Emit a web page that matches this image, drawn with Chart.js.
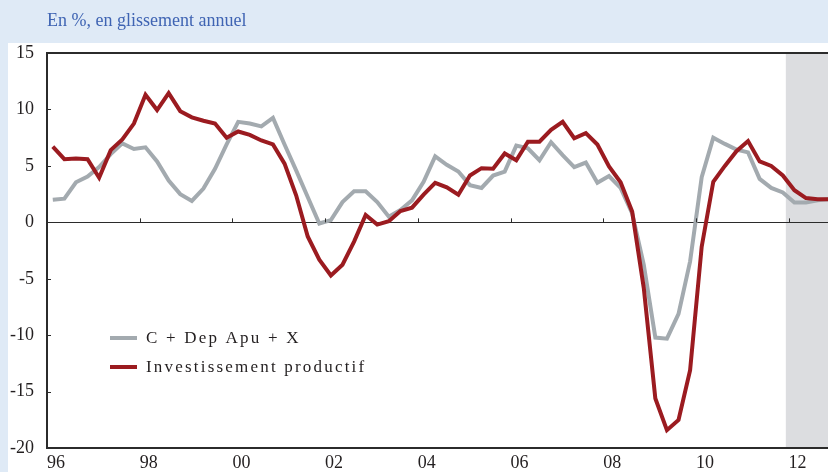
<!DOCTYPE html>
<html lang="fr">
<head>
<meta charset="utf-8">
<script src="https://cdn.jsdelivr.net/npm/chart.js@4.4.1/dist/chart.umd.min.js"></script>
<style>
  html, body { margin: 0; padding: 0; background: #dfeaf6; }
  #wrap { width: 828px; height: 472px; }
</style>
</head>
<body>
<div id="wrap"><canvas id="graph" width="828" height="472"></canvas></div>
<script>
// Glissement annuel trimestriel, 1996T1 -> 2012T4
const debut = 1996;
const annees = [1996, 1998, 2000, 2002, 2004, 2006, 2008, 2010, 2012];
const debutPrevision = 2011.94;

const demande = [
    2.0, 2.1, 3.55, 4.05, 4.9, 6.05, 7.0, 6.5, 6.65, 5.4, 3.7, 2.5,
    1.9, 3.0, 4.75, 6.9, 8.9, 8.75, 8.5, 9.25, 6.9, 4.6, 2.25, -0.1,
    0.2, 1.8, 2.75, 2.75, 1.8, 0.5, 1.1, 1.95, 3.6, 5.85, 5.1, 4.5,
    3.3, 3.05, 4.15, 4.5, 6.8, 6.55, 5.5, 7.1, 5.95, 4.9, 5.3, 3.5,
    4.1, 3.05, 0.8, -3.75, -10.2, -10.3, -8.1, -3.45, 4.0, 7.5, 6.95, 6.45,
    6.2, 3.85, 3.05, 2.65, 1.75, 1.75, 1.95, 2.05
];
const investissement = [
    6.7, 5.6, 5.65, 5.6, 3.95, 6.4, 7.35, 8.75, 11.3, 9.95, 11.45, 9.85,
    9.3, 9.0, 8.75, 7.5, 8.05, 7.75, 7.25, 6.9, 5.2, 2.4, -1.25, -3.3,
    -4.7, -3.75, -1.7, 0.65, -0.2, 0.1, 1.0, 1.3, 2.45, 3.5, 3.1, 2.45,
    4.15, 4.8, 4.75, 6.1, 5.5, 7.15, 7.15, 8.2, 8.9, 7.45, 7.9, 6.9,
    4.95, 3.55, 0.95, -5.8, -15.6, -18.4, -17.5, -13.1, -2.15, 3.6, 5.0, 6.3,
    7.2, 5.4, 5.0, 4.15, 2.85, 2.15, 2.05, 2.05
];

const couleurs = {
    gris: '#a3aaaf',
    rouge: '#9b1b20',
    texte: '#231f20',
    axe: '#2b2b2b',
    titre: '#3f64b3',
    fond: '#dfeaf6',
    prevision: '#dcdde0'
};

const police = 'Liberation Serif, Times New Roman, serif';

// trimestre i -> milieu du trimestre
const enPoints = (serie) => serie.map((v, i) => ({ x: debut + (i + 0.5) / 4, y: v }));

// Fond bleu, panneau blanc, zone de prévision grisée
const fondPlugin = {
    id: 'fond',
    beforeDraw(chart) {
        const { ctx, chartArea, scales } = chart;
        ctx.save();
        ctx.fillStyle = couleurs.fond;
        ctx.fillRect(0, 0, chart.width, chart.height);
        ctx.fillStyle = '#ffffff';
        ctx.fillRect(8, 43, chart.width - 8, chart.height - 43);
        const x0 = scales.x.getPixelForValue(debutPrevision);
        ctx.fillStyle = couleurs.prevision;
        ctx.fillRect(x0, chartArea.top, chartArea.right - x0, chartArea.bottom - chartArea.top);
        ctx.restore();
    }
};

// Bord supérieur, petites graduations internes et légende
const habillagePlugin = {
    id: 'habillage',
    afterDraw(chart) {
        const { ctx, chartArea, scales } = chart;
        ctx.save();
        ctx.strokeStyle = couleurs.axe;
        ctx.lineWidth = 2;
        ctx.beginPath();
        ctx.moveTo(chartArea.left - 1, chartArea.top);
        ctx.lineTo(chartArea.right, chartArea.top);
        ctx.stroke();

        ctx.lineWidth = 1;
        const y0 = scales.y.getPixelForValue(0);
        annees.slice(1).forEach(a => {
            const x = Math.round(scales.x.getPixelForValue(a)) + 0.5;
            ctx.beginPath();
            ctx.moveTo(x, y0);
            ctx.lineTo(x, y0 - 4);
            ctx.stroke();
        });
        scales.y.ticks.forEach(t => {
            const y = Math.round(scales.y.getPixelForValue(t.value)) + 0.5;
            ctx.beginPath();
            ctx.moveTo(chartArea.left, y);
            ctx.lineTo(chartArea.left + 4, y);
            ctx.stroke();
        });

        // légende
        const lx = chartArea.left + 63;
        let ly = chartArea.top + 285;
        ctx.font = '17px ' + police;
        ctx.textBaseline = 'middle';
        ctx.letterSpacing = '2.2px';
        chart.data.datasets.forEach(ds => {
            ctx.strokeStyle = ds.borderColor;
            ctx.lineWidth = 4;
            ctx.beginPath();
            ctx.moveTo(lx, ly);
            ctx.lineTo(lx + 27, ly);
            ctx.stroke();
            ctx.fillStyle = couleurs.texte;
            ctx.fillText(ds.label, lx + 36, ly + 1);
            ly += 29;
        });
        ctx.restore();
    }
};

new Chart(document.getElementById('graph'), {
    type: 'line',
    data: {
        datasets: [
            {
                label: 'C + Dep Apu + X',
                data: enPoints(demande),
                borderColor: couleurs.gris,
                borderWidth: 4,
                pointRadius: 0,
                tension: 0,
                order: 2
            },
            {
                label: 'Investissement productif',
                data: enPoints(investissement),
                borderColor: couleurs.rouge,
                borderWidth: 4,
                pointRadius: 0,
                tension: 0,
                order: 1
            }
        ]
    },
    options: {
        responsive: false,
        animation: false,
        layout: { padding: { top: 0, right: 0, bottom: 0, left: 0 } },
        plugins: {
            legend: { display: false },
            tooltip: { enabled: false },
            title: {
                display: true,
                text: 'En %, en glissement annuel',
                align: 'start',
                fullSize: false,
                color: couleurs.titre,
                font: { family: police, size: 18, weight: 'normal' },
                padding: { top: 10, bottom: 21.4 }
            }
        },
        scales: {
            x: {
                type: 'linear',
                min: 1996,
                max: 2012.85,
                afterFit: (axis) => { axis.height = 20; },
                grid: { display: false, drawTicks: false },
                border: { display: true, color: couleurs.axe, width: 2 },
                ticks: {
                    stepSize: 2,
                    includeBounds: false,
                    autoSkip: false,
                    maxRotation: 0,
                    padding: 4,
                    labelOffset: 9,
                    color: couleurs.texte,
                    font: { family: police, size: 18 },
                    callback: (v) => annees.includes(v) ? String(v % 100).padStart(2, '0') : ''
                }
            },
            y: {
                min: -20,
                max: 15,
                afterFit: (axis) => { axis.width = 47; },
                grid: {
                    drawTicks: false,
                    color: (c) => c.tick && c.tick.value === 0 ? couleurs.axe : 'transparent',
                    lineWidth: 1
                },
                border: { display: true, color: couleurs.axe, width: 2 },
                ticks: {
                    stepSize: 5,
                    padding: 13,
                    color: couleurs.texte,
                    font: { family: police, size: 18 }
                }
            }
        }
    },
    plugins: [fondPlugin, habillagePlugin]
});
</script>
</body>
</html>
